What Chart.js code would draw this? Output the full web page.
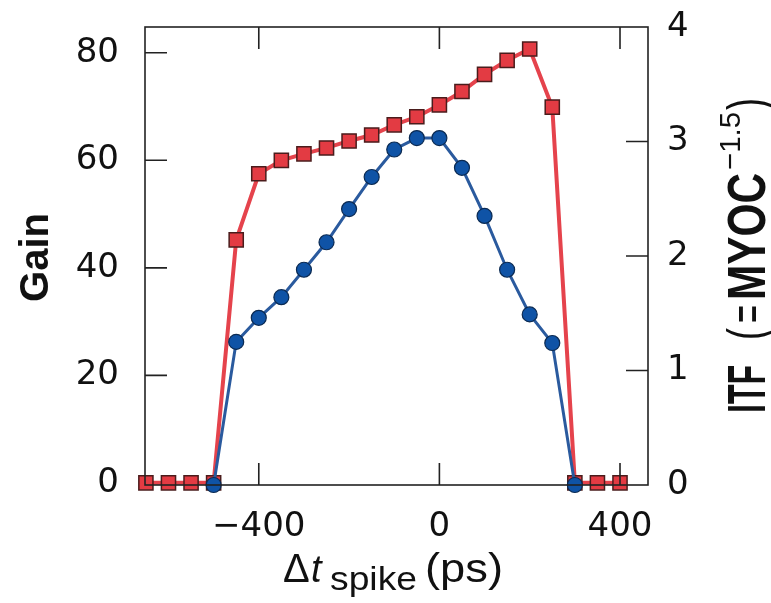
<!DOCTYPE html>
<html>
<head>
<meta charset="utf-8">
<script src="https://cdn.jsdelivr.net/npm/chart.js@4.4.1/dist/chart.umd.min.js"></script>
<style>
  html, body { margin: 0; padding: 0; background: #fff; }
  #wrap { width: 771px; height: 603px; }
</style>
</head>
<body>
<div id="wrap"><canvas id="chart" width="771" height="603"></canvas></div>
<script>
// spike timing offsets (ps)
const DT_PS = [-650, -600, -550, -500, -450, -400, -350, -300, -250, -200, -150,
               -100, -50, 0, 50, 100, 150, 200, 250, 300, 350, 400];
// Gain (left axis), red squares
const GAIN = [0, 0, 0, 0, 45.2, 57.5, 60.0, 61.2, 62.3, 63.6, 64.7,
              66.6, 68.1, 70.3, 72.8, 76.0, 78.6, 80.7, 69.9, 0, 0, 0];
// ITF (right axis), blue circles, only -500..300
const ITF_DT = [-500, -450, -400, -350, -300, -250, -200, -150, -100, -50,
                0, 50, 100, 150, 200, 250, 300];
const ITF = [0, 1.25, 1.46, 1.64, 1.88, 2.12, 2.41, 2.69, 2.93, 3.03,
             3.03, 2.77, 2.35, 1.88, 1.49, 1.24, 0];

const X_TICKS = [-400, 0, 400];
const GAIN_TICKS = [0, 20, 40, 60, 80];
const ITF_TICKS = [0, 1, 2, 3, 4];

const RED = '#e5434c';
const RED_FILL = '#e33b43';
const RED_EDGE = '#4a1c1c';
const BLUE = '#2a5a9e';
const BLUE_FILL = '#0f53a6';
const BLUE_EDGE = '#0b2a52';
const FONT = '"Liberation Sans", Arial, Helvetica, sans-serif';
const TICK_FONT = { family: '"DejaVu Sans", sans-serif', size: 34 };

const gainPts = DT_PS.map((x, i) => ({ x, y: GAIN[i] }));
const itfPts = ITF_DT.map((x, i) => ({ x, y: ITF[i] }));

const setTicks = list => axis => { axis.ticks = list.map(v => ({ value: v })); };
const noPad = s => { s.paddingTop = 0; s.paddingBottom = 0; s.paddingLeft = 0; s.paddingRight = 0; };

// fit a text run horizontally into a given length
function drawFit(ctx, text, font, x, y, width) {
  ctx.font = font;
  const w = ctx.measureText(text).width;
  ctx.save();
  ctx.translate(x, y);
  ctx.scale(width / w, 1);
  ctx.fillText(text, 0, 0);
  ctx.restore();
}

const framePlugin = {
  id: 'frame',
  afterDatasetsDraw(chart) {
    const { ctx, chartArea: a, scales } = chart;
    const TL = 22;
    ctx.save();
    ctx.strokeStyle = '#222';
    ctx.lineWidth = 1.6;
    ctx.strokeRect(a.left, a.top, a.right - a.left, a.bottom - a.top);
    ctx.beginPath();
    for (const v of X_TICKS) {
      const px = scales.x.getPixelForValue(v);
      ctx.moveTo(px, a.bottom); ctx.lineTo(px, a.bottom - TL);
      ctx.moveTo(px, a.top); ctx.lineTo(px, a.top + TL);
    }
    for (const v of GAIN_TICKS.slice(1)) {
      const py = scales.y.getPixelForValue(v);
      ctx.moveTo(a.left, py); ctx.lineTo(a.left + TL, py);
    }
    for (const v of ITF_TICKS.slice(1, -1)) {
      const py = scales.y2.getPixelForValue(v);
      ctx.moveTo(a.right, py); ctx.lineTo(a.right - TL, py);
    }
    ctx.stroke();
    ctx.restore();
  },
  afterDraw(chart) {
    const { ctx } = chart;
    ctx.save();
    ctx.fillStyle = '#111';
    ctx.textBaseline = 'alphabetic';
    ctx.textAlign = 'left';

    // left title
    ctx.save();
    ctx.translate(48, 302);
    ctx.rotate(-Math.PI / 2);
    drawFit(ctx, 'Gain', 'bold 41px ' + FONT, 0, 0, 89);
    ctx.restore();

    // right title
    ctx.save();
    ctx.translate(765, 413);
    ctx.rotate(-Math.PI / 2);
    drawFit(ctx, 'ITF', 'bold 54px ' + FONT, 0, 0, 48);
    drawFit(ctx, '(', '54px ' + FONT, 73, 0, 12);
    drawFit(ctx, '=', '54px ' + FONT, 90, 0, 18);
    drawFit(ctx, 'MYOC', 'bold 54px ' + FONT, 113, 0, 127);
    drawFit(ctx, '\u22121.5', '30px ' + FONT, 243, -25, 58);
    drawFit(ctx, ')', '54px ' + FONT, 303, 0, 12);
    ctx.restore();

    // bottom title
    ctx.font = '40px ' + FONT;
    ctx.fillText('\u0394', 283, 582);
    ctx.font = 'italic 38px ' + FONT;
    ctx.fillText('t', 311, 582);
    drawFit(ctx, 'spike', '34px ' + FONT, 330, 590, 87);
    drawFit(ctx, '(ps)', '40px ' + FONT, 425, 582, 78);
    ctx.restore();
  }
};

new Chart(document.getElementById('chart'), {
  type: 'line',
  data: {
    datasets: [
      {
        label: 'ITF',
        data: itfPts,
        yAxisID: 'y2',
        order: 0,
        borderColor: BLUE,
        borderWidth: 3,
        pointStyle: 'circle',
        pointRadius: 7.5,
        pointBackgroundColor: BLUE_FILL,
        pointBorderColor: BLUE_EDGE,
        pointBorderWidth: 1.2,
        tension: 0,
        clip: false,
      },
      {
        label: 'Gain',
        data: gainPts,
        yAxisID: 'y',
        order: 1,
        borderColor: RED,
        borderWidth: 4,
        pointStyle: 'rect',
        pointRadius: 10,
        pointBackgroundColor: RED_FILL,
        pointBorderColor: RED_EDGE,
        pointBorderWidth: 1.5,
        tension: 0,
        clip: false,
      },
    ],
  },
  options: {
    responsive: false,
    animation: false,
    devicePixelRatio: 1,
    layout: { padding: { top: 27, left: 0, right: 0, bottom: 0 } },
    plugins: { legend: { display: false }, tooltip: { enabled: false } },
    scales: {
      x: {
        type: 'linear',
        position: 'bottom',
        min: -652,
        max: 462,
        grid: { display: false, drawTicks: false },
        border: { display: false },
        afterBuildTicks: setTicks(X_TICKS),
        afterFit: s => { s.height = 118; noPad(s); },
        ticks: {
          color: '#111',
          padding: 22,
          maxRotation: 0,
          font: TICK_FONT,
          callback: v => (v < 0 ? '\u2212' + Math.abs(v) : String(v)),
        },
      },
      y: {
        type: 'linear',
        position: 'left',
        min: -0.4,
        max: 84.8,
        grid: { display: false, drawTicks: false },
        border: { display: false },
        afterBuildTicks: setTicks(GAIN_TICKS),
        afterFit: s => { s.width = 145; noPad(s); },
        ticks: { color: '#111', padding: 26, font: TICK_FONT },
      },
      y2: {
        type: 'linear',
        position: 'right',
        min: 0,
        max: 4,
        grid: { display: false, drawTicks: false },
        border: { display: false },
        afterBuildTicks: setTicks(ITF_TICKS),
        afterFit: s => { s.width = 123; noPad(s); },
        ticks: { color: '#111', padding: 19, font: TICK_FONT },
      },
    },
  },
  plugins: [framePlugin],
});
</script>
</body>
</html>
